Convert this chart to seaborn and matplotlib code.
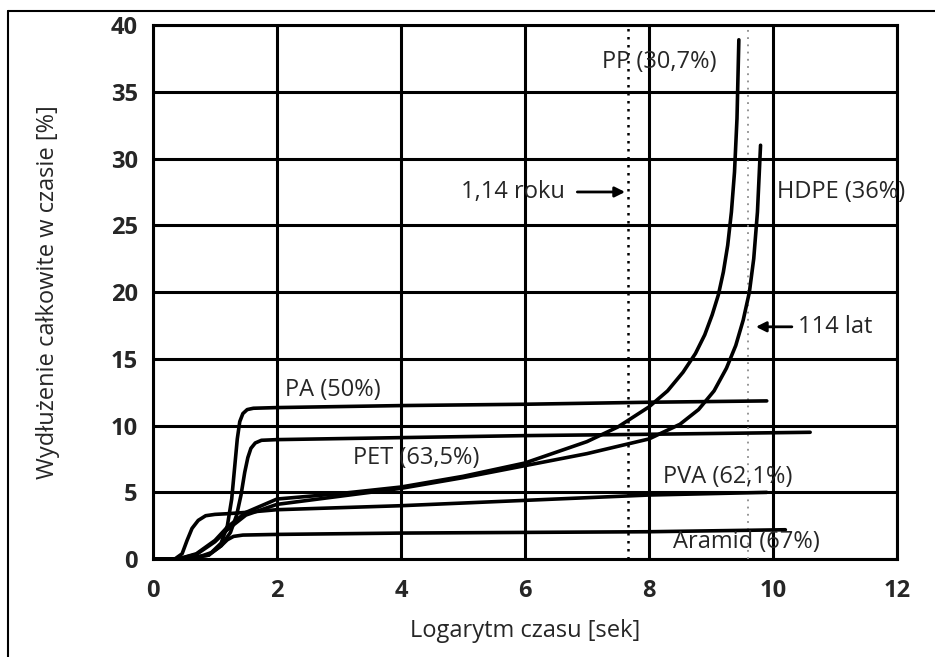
import numpy as np
import pandas as pd
import matplotlib
matplotlib.use("Agg")
import matplotlib.pyplot as plt
from matplotlib.lines import Line2D
import seaborn as sns

# curves (x = log time [s], y = elongation [%])
pa_x = [0.0, 0.5, 0.9, 1.1, 1.2, 1.27, 1.32, 1.36, 1.4, 1.45, 1.52, 1.62, 2.0, 4.0, 6.0, 8.0, 9.9]
pa_y = [0.0, 0.0, 0.3, 1.2, 2.5, 4.5, 7.0, 9.0, 10.3, 10.9, 11.2, 11.3, 11.35, 11.5, 11.6, 11.75, 11.85]

pet_x = [0.0, 0.5, 0.9, 1.1, 1.25, 1.35, 1.42, 1.48, 1.53, 1.58, 1.65, 1.75, 2.0, 4.0, 6.0, 8.0, 10.6]
pet_y = [0.0, 0.0, 0.3, 1.0, 2.0, 3.3, 4.8, 6.5, 7.6, 8.3, 8.7, 8.9, 8.95, 9.1, 9.25, 9.35, 9.5]

pp_x = [0.0, 0.4, 0.7, 1.0, 1.2, 1.5, 2.0, 3.0, 4.0, 5.0, 6.0, 7.0, 7.5, 8.0, 8.3, 8.55, 8.75,
        8.9, 9.02, 9.12, 9.2, 9.27, 9.33, 9.38, 9.42, 9.45]
pp_y = [0.0, 0.0, 0.4, 1.4, 2.4, 3.5, 4.5, 4.9, 5.4, 6.2, 7.2, 8.8, 9.9, 11.4, 12.6, 14.0, 15.4,
        16.8, 18.3, 19.8, 21.5, 23.5, 26.0, 29.0, 33.0, 38.9]

hdpe_x = [0.0, 0.4, 0.7, 1.0, 1.2, 1.5, 2.0, 3.0, 4.0, 5.0, 6.0, 7.0, 8.0, 8.5, 8.8, 9.05, 9.25,
          9.4, 9.52, 9.62, 9.69, 9.75, 9.8]
hdpe_y = [0.0, 0.0, 0.35, 1.3, 2.2, 3.3, 4.1, 4.7, 5.3, 6.1, 7.0, 7.9, 9.0, 10.1, 11.2, 12.6, 14.3,
          16.0, 17.9, 20.0, 22.5, 26.0, 31.0]

pva_x = [0.0, 0.35, 0.47, 0.55, 0.63, 0.73, 0.85, 1.0, 1.2, 1.5, 2.0, 4.0, 6.0, 8.0, 9.9]
pva_y = [0.0, 0.0, 0.4, 1.4, 2.3, 2.9, 3.25, 3.35, 3.4, 3.5, 3.7, 4.0, 4.4, 4.8, 5.0]

aramid_x = [0.0, 0.4, 0.7, 0.95, 1.1, 1.2, 1.3, 1.45, 2.0, 4.0, 6.0, 8.0, 10.2]
aramid_y = [0.0, 0.0, 0.1, 0.5, 1.0, 1.45, 1.7, 1.8, 1.85, 1.95, 2.0, 2.05, 2.2]

curves = {
    "PA": (pa_x, pa_y),
    "PET": (pet_x, pet_y),
    "PP": (pp_x, pp_y),
    "HDPE": (hdpe_x, hdpe_y),
    "PVA": (pva_x, pva_y),
    "Aramid": (aramid_x, aramid_y),
}

labels = [
    ("PA (50%)", 2.13, 12.65),
    ("PET (63,5%)", 3.23, 7.6),
    ("PP (30,7%)", 7.24, 37.2),
    ("HDPE (36%)", 10.06, 27.5),
    ("PVA (62,1%)", 8.23, 6.15),
    ("Aramid (67%)", 8.39, 1.3),
]

marker_year = 7.66     # 1,14 roku
marker_114 = 9.6       # 114 lat

x_ticks = [0, 2, 4, 6, 8, 10, 12]
y_ticks = [0, 5, 10, 15, 20, 25, 30, 35, 40]

sns.set_style("white")
plt.rcParams['font.family'] = ['Open Sans', 'DejaVu Sans']

fig = plt.figure(figsize=(9.35, 6.57), dpi=100)
ax = fig.add_axes([0.1636, 0.149, 0.7957, 0.8128])

for name, (xs, ys) in curves.items():
    df = pd.DataFrame({"x": xs, "y": ys})
    sns.lineplot(data=df, x="x", y="y", ax=ax, color="black", lw=2.6,
                 sort=False, estimator=None, zorder=4)

ax.set_xlim(0, 12)
ax.set_ylim(0, 40)
ax.set_xticks(x_ticks)
ax.set_yticks(y_ticks)
ax.grid(True, color="black", lw=2.2)
ax.set_axisbelow(True)
for s in ax.spines.values():
    s.set_color("black")
    s.set_linewidth(2.2)
ax.tick_params(length=0, labelsize=17)
ax.tick_params(axis="y", pad=11)
ax.tick_params(axis="x", pad=14)
for t in ax.get_xticklabels() + ax.get_yticklabels():
    t.set_fontweight("bold")

ax.set_xlabel("Logarytm czasu [sek]", fontsize=17, fontweight="medium")
ax.set_ylabel("Wydłużenie całkowite w czasie [%]", fontsize=17, fontweight="medium")
ax.yaxis.set_label_coords(-0.125, 0.5)
ax.xaxis.set_label_coords(0.5, -0.113)

# dotted reference lines
ax.axvline(marker_year, color="black", lw=1.8, ls=(0, (1, 2.2)), zorder=3)
ax.axvline(marker_114, color="0.55", lw=1.3, ls=(0, (1, 3)), zorder=3)

for txt, x, y in labels:
    ax.text(x, y, txt, fontsize=17, fontweight="medium", va="center", ha="left",
            zorder=5, clip_on=False)

ax.annotate("", xy=(marker_year, 27.5), xytext=(6.8, 27.5),
            arrowprops=dict(arrowstyle="-|>", color="black", lw=2.0,
                            mutation_scale=15), zorder=5)
ax.text(6.65, 27.5, "1,14 roku", fontsize=17, fontweight="medium",
        ha="right", va="center", zorder=5)

ax.annotate("", xy=(9.68, 17.4), xytext=(10.35, 17.4),
            arrowprops=dict(arrowstyle="-|>", color="black", lw=2.0,
                            mutation_scale=15), zorder=5)
ax.text(10.4, 17.4, "114 lat", fontsize=17, fontweight="medium",
        ha="left", va="center", zorder=5)

# outer frame (left and top edges visible)
fig.add_artist(Line2D([8 / 935, 8 / 935], [0, 1 - 11 / 657], color="black", lw=1.5))
fig.add_artist(Line2D([8 / 935, 1], [1 - 11 / 657, 1 - 11 / 657], color="black", lw=1.5))

fig.savefig("out.png", dpi=100)
